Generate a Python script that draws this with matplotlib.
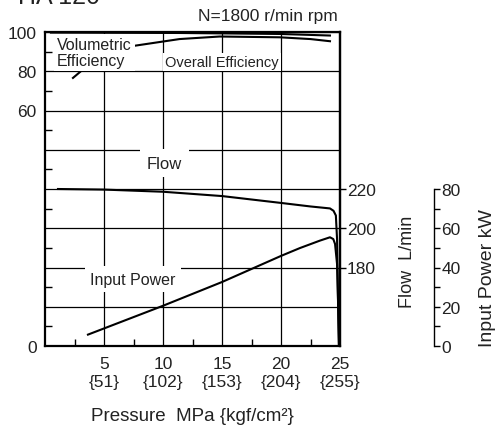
import matplotlib
matplotlib.use("Agg")
import matplotlib.pyplot as plt

plt.rcParams['font.family'] = ['Liberation Sans', 'DejaVu Sans']

# pressure (MPa) ticks and kgf/cm2 equivalents
p_ticks = [5, 10, 15, 20, 25]
kgf_labels = ['{51}', '{102}', '{153}', '{204}', '{255}']

# volumetric efficiency (%)
vol_p = [0.5, 11.4, 19.9, 24.15]
vol_eff = [99.7, 99.5, 99.0, 98.2]

# overall efficiency (%)
ovr_p = [2.37, 3.1, 4.2, 5.9, 7.6, 11.4, 14.8, 19.9, 22.5, 24.15]
ovr_eff = [76.6, 80.3, 86.2, 90.8, 93.0, 96.4, 97.7, 97.3, 96.4, 95.3]

# flow (L/min)
flow_p = [1.1, 5.0, 10.0, 15.0, 20.0, 22.5, 24.15, 24.45, 24.65, 24.75, 24.83, 24.9]
flow_q = [220.0, 219.7, 218.6, 216.4, 212.9, 211.1, 210.1, 208.9, 206.5, 194.5, 164.0, 140.0]

# input power (kW)
pow_p = [3.64, 10.0, 15.0, 20.0, 21.6, 23.3, 24.15, 24.43, 24.58, 24.75, 24.83, 24.92]
pow_kw = [5.8, 20.5, 32.6, 45.9, 49.9, 53.7, 55.4, 54.5, 52.0, 41.8, 24.0, 0.0]

txt = '#222222'

fig = plt.figure(figsize=(4.97, 4.31), dpi=100)
ax = fig.add_axes([45/497, 1-347/431, 295/497, 314/431])

ax.set_xlim(0, 25)
ax.set_ylim(-60, 100)
ax.set_axisbelow(True)
ax.grid(True, color='k', lw=0.9)

ax.set_xticks(p_ticks)
ax.set_xticklabels([f"{p}\n{k}" for p, k in zip(p_ticks, kgf_labels)],
                   fontsize=12.5, color=txt, linespacing=1.3)
ax.set_xticks([2.5, 7.5, 12.5, 17.5, 22.5], minor=True)
ax.set_yticks(range(-60, 101, 20))
ax.set_yticklabels(['0', '', '', '', '', '', '60', '80', '100'], fontsize=12.5, color=txt)
ax.set_yticks(range(-50, 100, 20), minor=True)
ax.tick_params(which='major', length=0, pad=7)
ax.tick_params(axis='y', which='major', pad=6)
ax.tick_params(which='minor', direction='in', length=5, width=1.0)
for s in ax.spines.values():
    s.set_linewidth(1.6)
    s.set_zorder(4)

ax.plot(vol_p, vol_eff, color='k', lw=1.5, zorder=2)
ax.plot(ovr_p, ovr_eff, color='k', lw=1.5, zorder=2)

ax.set_xlabel("Pressure  MPa {kgf/cm²}", fontsize=13.5, color=txt, labelpad=13)

ax.text(1.0, 97.5, "Volumetric\nEfficiency", fontsize=11.5, color=txt, va='top', ha='left',
        linespacing=1.1, bbox=dict(boxstyle='square,pad=0.2', fc='white', ec='none'),
        zorder=3)
ax.text(10.15, 84.8, "Overall Efficiency", fontsize=10.5, color=txt, va='center', ha='left',
        bbox=dict(boxstyle='square,pad=0.15', fc='white', ec='none'), zorder=3)
ax.text(10.13, 33.2, "Flow", fontsize=12, color=txt, va='center', ha='center',
        bbox=dict(boxstyle='square,pad=0.4', fc='white', ec='none'), zorder=3)
ax.text(7.46, -25.9, "Input Power", fontsize=11.5, color=txt, va='center', ha='center',
        bbox=dict(boxstyle='square,pad=0.35', fc='white', ec='none'), zorder=3)

# flow axis
ax2 = ax.twinx()
ax2.set_ylim(140, 300)
ax2.set_yticks([180, 200, 220])
ax2.tick_params(axis='y', direction='out', length=4, width=1.0, labelsize=12.5,
                labelcolor=txt, pad=1)
for name, s in ax2.spines.items():
    s.set_visible(name == 'right')
    s.set_linewidth(1.6)
ax2.plot(flow_p, flow_q, color='k', lw=1.5)

# input power axis
ax3 = ax.twinx()
ax3.set_ylim(0, 160)
for name, s in ax3.spines.items():
    s.set_visible(name == 'right')
ax3.spines['right'].set_position(('outward', 68))
ax3.spines['right'].set_bounds(0, 80)
ax3.spines['right'].set_linewidth(1.0)
ax3.set_yticks(range(0, 81, 20))
ax3.set_yticks(range(10, 80, 20), minor=True)
ax3.tick_params(axis='y', which='both', direction='out', length=4, width=1.0,
                labelsize=12.5, labelcolor=txt, pad=1)
ax3.plot(pow_p, pow_kw, color='k', lw=1.5)

fig.text(408/497, 1-262/431, "Flow  L/min", rotation=90, fontsize=13, color=txt,
         ha='center', va='center')
fig.text(487/497, 1-278/431, "Input Power kW", rotation=90, fontsize=14, color=txt,
         ha='center', va='center')
fig.text(338/497, 1-17/431, "N=1800 r/min rpm", fontsize=12.5, color=txt,
         ha='right', va='center')
fig.text(18/497, 1-4/431, "HA 120", fontsize=18, color=txt, ha='left', va='baseline')

fig.savefig("out.png", dpi=100)
